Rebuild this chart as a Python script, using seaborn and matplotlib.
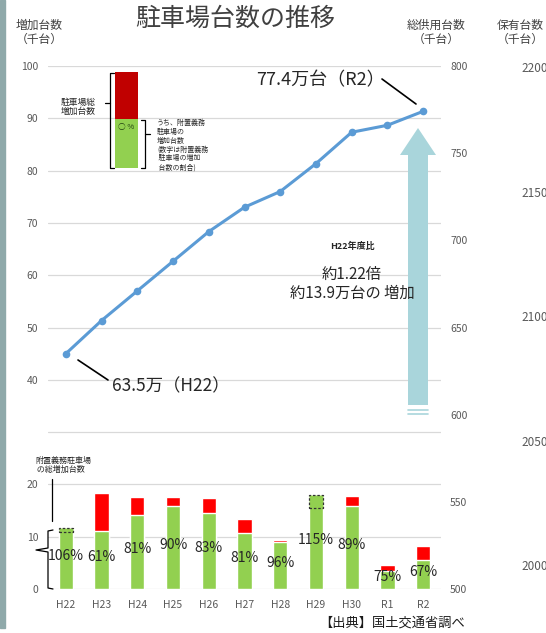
import numpy as np
import pandas as pd
import matplotlib
matplotlib.use('Agg')
import matplotlib.pyplot as plt
import seaborn as sns
from matplotlib.lines import Line2D
from matplotlib.patches import FancyArrow, Rectangle

# ---------------- data ----------------
years = ['H22', 'H23', 'H24', 'H25', 'H26', 'H27', 'H28', 'H29', 'H30', 'R1', 'R2']
total_supply = [635, 654, 671, 688, 705, 719, 728, 744, 762, 766, 774]          # 総供用台数 (千台)
total_increase = [10.95, 18.4, 17.6, 17.6, 17.4, 13.3, 9.4, 15.5, 17.75, 4.66, 8.2]   # 駐車場総増加台数
attached_increase = [11.6, 11.1, 14.2, 15.8, 14.6, 10.8, 9.0, 17.9, 15.9, 3.5, 5.6]  # 附置義務駐車場の増加台数
pct_labels = ['106%', '61%', '81%', '90%', '83%', '81%', '96%', '115%', '89%', '75%', '67%']
left_ticks = [0, 10, 20, 40, 50, 60, 70, 80, 90, 100]
right_ticks = [500, 550, 600, 650, 700, 750, 800]
owned_ticks = [2000, 2050, 2100, 2150, 2200]

# ---------------- style ----------------
sns.set_style('white')
plt.rcParams['font.family'] = ['Noto Sans CJK JP', 'DejaVu Sans']

W, H = 546, 633
fig = plt.figure(figsize=(W / 100, H / 100), dpi=100)


def P(x, y):
    return (x / W, 1 - y / H)


AX_L, AX_R, AX_T, AX_B = 48, 441, 66, 589
ax = fig.add_axes([AX_L / W, 1 - AX_B / H, (AX_R - AX_L) / W, (AX_B - AX_T) / H])

GREEN = '#92d050'
RED = '#ff0000'
TICKC = '#595959'

df = pd.DataFrame({'year': years, 'total': total_increase, 'attached': attached_increase})
sns.barplot(data=df, x='year', y='total', color=RED, width=0.4, saturation=1,
            errorbar=None, ax=ax, zorder=2)
sns.barplot(data=df, x='year', y='attached', color=GREEN, width=0.4, saturation=1,
            errorbar=None, ax=ax, zorder=3)

xs = np.arange(len(years))
tot = np.array(total_increase)
att = np.array(attached_increase)
exc = att - tot
m = exc > 0
ax.bar(xs[m], exc[m], bottom=tot[m], width=0.4, color=GREEN, edgecolor='#333333',
       linestyle=(0, (2, 1.5)), linewidth=0.9, zorder=4)

for i, (g, lab) in enumerate(zip(att, pct_labels)):
    ax.text(i, 0.5 * g + 0.5, lab, ha='center', va='center', fontsize=10,
            color='#262626', zorder=5)

ax.set_ylim(0, 100)
ax.set_yticks(range(0, 101, 10))
ax.set_yticklabels([str(v) if v in left_ticks else '' for v in range(0, 101, 10)])
ax.grid(axis='y', color='#d9d9d9', lw=0.9)
ax.grid(axis='x', visible=False)
ax.set_axisbelow(True)
ax.tick_params(axis='y', length=0, pad=7, labelsize=7.5, labelcolor=TICKC)
ax.tick_params(axis='x', length=0, pad=8, labelsize=7.5, labelcolor=TICKC)
ax.set_xlabel('')
ax.set_ylabel('')
for s in ax.spines.values():
    s.set_visible(False)

# line on right axis
ax2 = ax.twinx()
sns.lineplot(x=xs, y=total_supply, ax=ax2, color='#5b9bd5', lw=2.2, marker='o',
             markersize=5.5, markeredgewidth=0)
ax2.set_ylim(500, 800)
ax2.set_yticks(right_ticks)
ax2.tick_params(axis='y', length=0, pad=6.5, labelsize=7.5, labelcolor=TICKC)
ax2.set_ylabel('')
for s in ax2.spines.values():
    s.set_visible(False)

# third (保有台数) axis
ax3 = ax.twinx()
ax3.set_ylim(1990.4, 2200.4)
ax3.set_yticks(owned_ticks)
ax3.tick_params(axis='y', length=0, pad=58, labelsize=8.5, labelcolor=TICKC)
for s in ax3.spines.values():
    s.set_visible(False)

ax.set_xlim(-0.5, 10.5)

# ---------------- figure decorations ----------------
fig.patches.append(Rectangle((0, 1 - 628 / H), 5 / W, 628 / H, transform=fig.transFigure,
                             color='#8fa9aa', zorder=0))

fig.text(*P(235, 19), '駐車場台数の推移', ha='center', va='center', fontsize=18, color='#404040')
fig.text(*P(39, 32), '増加台数\n（千台）', ha='center', va='center', fontsize=8.5,
         color='#404040', linespacing=1.1)
fig.text(*P(436, 32), '総供用台数\n（千台）', ha='center', va='center', fontsize=8.5,
         color='#404040', linespacing=1.1)
fig.text(*P(520, 32), '保有台数\n（千台）', ha='center', va='center', fontsize=8.5,
         color='#404040', linespacing=1.1)

# arrow
ARROWC = '#a9d5db'
fig.patches.append(FancyArrow(418 / W, 1 - 405 / H, 0, (405 - 128) / H, width=20 / W,
                              head_width=36 / W, head_length=27 / H,
                              length_includes_head=True, transform=fig.transFigure,
                              color=ARROWC, lw=0, zorder=2))
for yy in (410, 414):
    fig.add_artist(Line2D([408 / W, 428 / W], [1 - yy / H, 1 - yy / H], color=ARROWC,
                          lw=1.2, transform=fig.transFigure, zorder=2))

fig.text(*P(352, 246), 'H22年度比', ha='center', va='center', fontsize=6.5,
         fontweight='bold', color='#262626', zorder=5)
fig.text(*P(352, 274), '約1.22倍', ha='center', va='center', fontsize=11,
         color='#262626', zorder=5)
fig.text(*P(352, 293), '約13.9万台の 増加', ha='center', va='center', fontsize=11,
         color='#262626', zorder=5)

# callouts
fig.text(*P(320, 80), '77.4万台（R2）', ha='center', va='center', fontsize=13, color='#262626')
fig.add_artist(Line2D([382 / W, 416 / W], [1 - 79 / H, 1 - 104 / H], color='black', lw=1.2,
                      transform=fig.transFigure))
fig.text(*P(171, 386), '63.5万（H22）', ha='center', va='center', fontsize=12.5, color='#262626')
fig.add_artist(Line2D([78 / W, 108 / W], [1 - 360 / H, 1 - 380 / H], color='black', lw=1.2,
                      transform=fig.transFigure))

# legend illustration (upper left)
fig.patches.append(Rectangle(P(115, 119), 23 / W, (119 - 72) / H, transform=fig.transFigure,
                             color='#c00000', lw=0, zorder=2))
fig.patches.append(Rectangle(P(115, 168), 23 / W, (168 - 119) / H, transform=fig.transFigure,
                             color=GREEN, lw=0, zorder=2))
fig.text(*P(126, 127), '○ %', ha='center', va='center', fontsize=5.5, color='#1e3d10', zorder=5)


def poly(pts, lw=0.9):
    xs_ = [p[0] / W for p in pts]
    ys_ = [1 - p[1] / H for p in pts]
    fig.add_artist(Line2D(xs_, ys_, color='black', lw=lw, transform=fig.transFigure, zorder=5))


poly([(114, 73), (110, 73), (110, 168), (114, 168)])
poly([(110, 103), (105, 103)])
poly([(141, 120), (145, 120), (145, 168), (141, 168)])
poly([(145, 134), (150, 134)])
fig.text(*P(78, 107), '駐車場総\n増加台数', ha='center', va='center', fontsize=6.3,
         color='#262626', linespacing=1.1)
fig.text(*P(157, 145), 'うち、附置義務\n駐車場の\n増加台数\n(数字は附置義務\n 駐車場の増加\n 台数の割合)',
         ha='left', va='center', fontsize=5, color='#262626', linespacing=1.15)

# lower-left bracket
fig.text(*P(35, 465), '附置義務駐車場\n の総増加台数', ha='left', va='center', fontsize=5.8,
         color='#262626', linespacing=1.05)
poly([(52, 479), (52, 521)])
poly([(53, 530), (48, 531), (48, 548), (36, 550), (48, 552), (48, 588), (53, 589)])

fig.text(*P(465, 623), '【出典】国土交通省調べ', ha='right', va='center', fontsize=9.5,
         color='#1a1a1a')

fig.savefig('out.png', dpi=100)
